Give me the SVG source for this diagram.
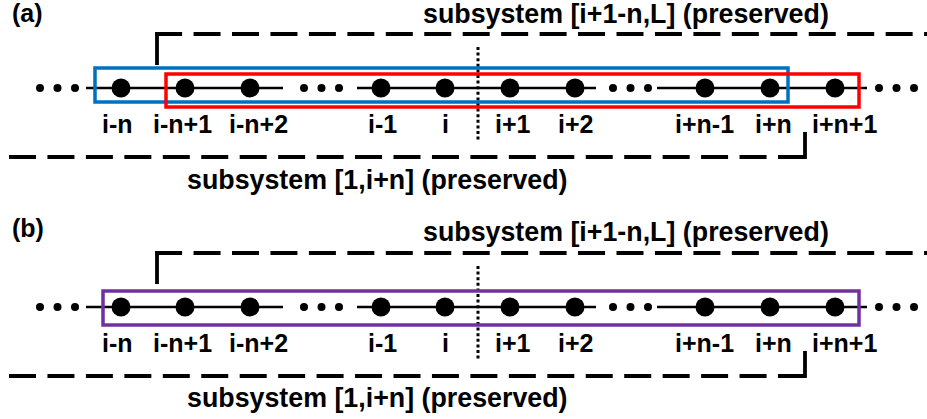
<svg xmlns="http://www.w3.org/2000/svg" width="927" height="419" viewBox="0 0 927 419">
  <style>
    text { font-family: "Liberation Sans", Arial, sans-serif; font-weight: bold; fill: #000; }
    .lbl { font-size: 25px; }
    .title { font-size: 26.8px; }
    .panel { font-size: 25px; }
    .site { fill: #000; }
    .dot { fill: #000; }
    .bond { stroke: #000; stroke-width: 2.5; fill: none; }
    .cut { stroke: #000; stroke-width: 3; stroke-dasharray: 3 2.6; fill: none; }
    .bracket { stroke: #000; stroke-width: 3.8; fill: none; }
    .dash { stroke-dasharray: 27 11.45; }
    .box { fill: none; stroke-width: 3.5; }
    .blue { stroke: #0070C0; }
    .red { stroke: #FF0000; }
    .purple { stroke: #7030A0; }
  </style>

  <!-- ===== panel (a) ===== -->
  <text class="panel" x="12" y="22">(a)</text>

  <!-- bonds along the chain -->
  <g id="connectors-a">
    <line class="bond" x1="86" y1="88" x2="283" y2="88"/>
    <line class="bond" x1="357" y1="88" x2="596" y2="88"/>
    <line class="bond" x1="657" y1="88" x2="867" y2="88"/>
    <line class="cut" x1="478" y1="47" x2="478" y2="142"/>
  </g>

  <!-- ellipsis dots -->
  <g id="dots-a" class="dot">
    <circle cx="40" cy="88" r="4"/><circle cx="57.5" cy="88" r="4"/><circle cx="75" cy="88" r="4"/>
    <circle cx="304" cy="88" r="4"/><circle cx="321.5" cy="88" r="4"/><circle cx="339" cy="88" r="4"/>
    <circle cx="613" cy="88" r="4"/><circle cx="630.5" cy="88" r="4"/><circle cx="648" cy="88" r="4"/>
    <circle cx="879" cy="88" r="4"/><circle cx="896.5" cy="88" r="4"/><circle cx="914" cy="88" r="4"/>
  </g>

  <!-- subsystem boxes -->
  <g id="box-blue-a"><rect class="box blue" x="95" y="68" width="693" height="34"/></g>
  <g id="box-red-a"><rect class="box red" x="166" y="74" width="693" height="33"/></g>

  <!-- sites -->
  <g id="a-site-i-n"><circle class="site" cx="121" cy="88" r="9.5"/><text class="lbl" x="102" y="133">i-n</text></g>
  <g id="a-site-i-n1"><circle class="site" cx="185" cy="88" r="9.5"/><text class="lbl" x="153" y="133">i-n+1</text></g>
  <g id="a-site-i-n2"><circle class="site" cx="250" cy="88" r="9.5"/><text class="lbl" x="229" y="133">i-n+2</text></g>
  <g id="a-site-i-1"><circle class="site" cx="381" cy="88" r="9.5"/><text class="lbl" x="368" y="133">i-1</text></g>
  <g id="a-site-i"><circle class="site" cx="445" cy="88" r="9.5"/><text class="lbl" x="442" y="133">i</text></g>
  <g id="a-site-ip1"><circle class="site" cx="510" cy="88" r="9.5"/><text class="lbl" x="495" y="133">i+1</text></g>
  <g id="a-site-ip2"><circle class="site" cx="575" cy="88" r="9.5"/><text class="lbl" x="558" y="133">i+2</text></g>
  <g id="a-site-ipn-1"><circle class="site" cx="705" cy="88" r="9.5"/><text class="lbl" x="675" y="133">i+n-1</text></g>
  <g id="a-site-ipn"><circle class="site" cx="770" cy="88" r="9.5"/><text class="lbl" x="755" y="133">i+n</text></g>
  <g id="a-site-ipn1"><circle class="site" cx="835" cy="88" r="9.5"/><text class="lbl" x="812" y="133">i+n+1</text></g>

  <!-- preserved subsystem brackets -->
  <g id="a-upper-bracket">
    <line class="bracket" x1="157" y1="65" x2="157" y2="32.1"/>
    <line class="bracket dash" x1="155.1" y1="34" x2="927" y2="34"/>
    <text class="title" x="423" y="23">subsystem [i+1-n,L] (preserved)</text>
  </g>
  <g id="a-lower-bracket">
    <line class="bracket dash" x1="9" y1="157" x2="806.9" y2="157"/>
    <line class="bracket" x1="805" y1="158.9" x2="805" y2="132"/>
    <text class="title" x="187" y="189">subsystem [1,i+n] (preserved)</text>
  </g>

  <!-- ===== panel (b) ===== -->
  <text class="panel" x="12" y="237">(b)</text>

  <g id="connectors-b">
    <line class="bond" x1="86" y1="307" x2="283" y2="307"/>
    <line class="bond" x1="357" y1="307" x2="596" y2="307"/>
    <line class="bond" x1="657" y1="307" x2="867" y2="307"/>
    <line class="cut" x1="478" y1="266" x2="478" y2="361"/>
  </g>

  <g id="dots-b" class="dot">
    <circle cx="40" cy="307" r="4"/><circle cx="57.5" cy="307" r="4"/><circle cx="75" cy="307" r="4"/>
    <circle cx="304" cy="307" r="4"/><circle cx="321.5" cy="307" r="4"/><circle cx="339" cy="307" r="4"/>
    <circle cx="613" cy="307" r="4"/><circle cx="630.5" cy="307" r="4"/><circle cx="648" cy="307" r="4"/>
    <circle cx="879" cy="307" r="4"/><circle cx="896.5" cy="307" r="4"/><circle cx="914" cy="307" r="4"/>
  </g>

  <g id="box-purple-b"><rect class="box purple" x="103" y="291" width="756" height="34"/></g>

  <g id="b-site-i-n"><circle class="site" cx="121" cy="307" r="9.5"/><text class="lbl" x="102" y="352">i-n</text></g>
  <g id="b-site-i-n1"><circle class="site" cx="185" cy="307" r="9.5"/><text class="lbl" x="153" y="352">i-n+1</text></g>
  <g id="b-site-i-n2"><circle class="site" cx="250" cy="307" r="9.5"/><text class="lbl" x="229" y="352">i-n+2</text></g>
  <g id="b-site-i-1"><circle class="site" cx="381" cy="307" r="9.5"/><text class="lbl" x="368" y="352">i-1</text></g>
  <g id="b-site-i"><circle class="site" cx="445" cy="307" r="9.5"/><text class="lbl" x="442" y="352">i</text></g>
  <g id="b-site-ip1"><circle class="site" cx="510" cy="307" r="9.5"/><text class="lbl" x="495" y="352">i+1</text></g>
  <g id="b-site-ip2"><circle class="site" cx="575" cy="307" r="9.5"/><text class="lbl" x="558" y="352">i+2</text></g>
  <g id="b-site-ipn-1"><circle class="site" cx="705" cy="307" r="9.5"/><text class="lbl" x="675" y="352">i+n-1</text></g>
  <g id="b-site-ipn"><circle class="site" cx="770" cy="307" r="9.5"/><text class="lbl" x="755" y="352">i+n</text></g>
  <g id="b-site-ipn1"><circle class="site" cx="835" cy="307" r="9.5"/><text class="lbl" x="812" y="352">i+n+1</text></g>

  <g id="b-upper-bracket">
    <line class="bracket" x1="157" y1="284" x2="157" y2="251.1"/>
    <line class="bracket dash" x1="155.1" y1="253" x2="927" y2="253"/>
    <text class="title" x="423" y="241">subsystem [i+1-n,L] (preserved)</text>
  </g>
  <g id="b-lower-bracket">
    <line class="bracket dash" x1="9" y1="376" x2="806.9" y2="376"/>
    <line class="bracket" x1="805" y1="377.9" x2="805" y2="351"/>
    <text class="title" x="187" y="407">subsystem [1,i+n] (preserved)</text>
  </g>
</svg>
